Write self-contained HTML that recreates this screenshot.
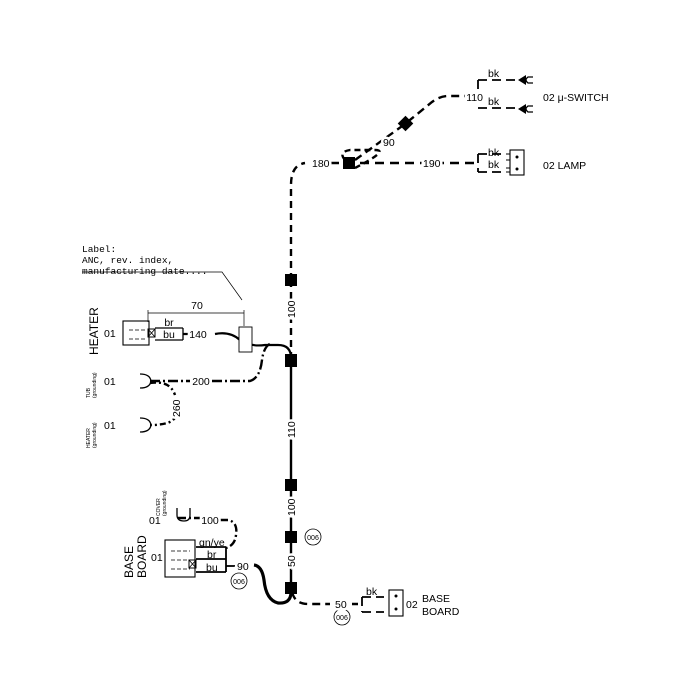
<!DOCTYPE html>
<html><head><meta charset="utf-8"><style>
body{margin:0;background:#fff}
svg{display:block}
text{font-family:"Liberation Sans",sans-serif;fill:#000}
.m{font-family:"Liberation Mono",monospace}
.w{stroke:#fff;stroke-width:5px;paint-order:stroke}
</style></head><body>
<svg width="700" height="700" viewBox="0 0 700 700" xmlns="http://www.w3.org/2000/svg">
<g fill="none" stroke="#000" stroke-width="2.4">
<path d="M291 280 V185 Q291 165 305 163" stroke-dasharray="7 5"/>
<path d="M291 280 V355" stroke-dasharray="7 5"/>
<path d="M291 365 V592" />
<path d="M330 163 H475" stroke-dasharray="9 6"/>
<path d="M345 160 Q338 152 350 150 H375 Q390 150 355 168" stroke-dasharray="6 4"/>
<path d="M355 160 L405 124 L432 102 Q440 96 448 96 H478" stroke-dasharray="8 5"/>
<path d="M478 80 V108 M478 80 H520 M478 108 H520" stroke-width="1.8" stroke-dasharray="9 5"/>
<path d="M478 154 V172 M478 154 H506 M478 172 H506" stroke-width="1.8" stroke-dasharray="9 5"/>
<path d="M183 334 H200 M215 334 Q230 331 240 340 Q250 347 265 345 H278 Q291 345 291 358" stroke-width="2.2"/>
<path d="M150 381 H190 M212 381 H250 Q260 378 262 360 Q264 345 272 343" stroke-dasharray="10 3 2 3"/>
<path d="M150 383 Q170 380 175 395 M176 415 Q174 425 150 425" stroke-dasharray="6 3 2 3"/>
<path d="M178 518 H200 M220 520 H228 Q238 522 236 535 Q235 545 226 548" stroke-dasharray="8 3 2 3"/>
<path d="M196 547 H226 M196 559 H226 M196 572 H226 M226 547 V572" stroke-width="1.8"/>
<path d="M226 566 H235" stroke-width="1.8"/>
<path d="M254 565 Q262 566 264 580 Q266 600 278 603 Q291 604 291 592" stroke-width="3.2"/>
<path d="M292 592 Q295 604 308 604 H330 M352 604 H358" stroke-dasharray="8 5"/>
<path d="M362 597 V612 M362 597 H384 M362 612 H384" stroke-width="1.8" stroke-dasharray="9 5"/>
<path d="M148 310 V322 M148 313 H244 M244 310 V326" stroke-width="0.7"/>
<path d="M82 272 H222 L242 300" stroke-width="0.7"/>
<rect x="239" y="327" width="13" height="25" stroke-width="0.9" fill="#fff"/>
<rect x="123" y="321" width="26" height="24" stroke-width="1.1"/>
<rect x="148" y="329" width="7" height="8" stroke-width="1"/>
<path d="M148 329 L155 337 M155 329 L148 337" stroke-width="0.8"/>
<path d="M155 328 H183 M155 340 H183 M183 328 V340" stroke-width="1.3"/>
<path d="M129 330 H145 M129 339 H145" stroke-width="0.8" stroke-dasharray="4 2"/>
<path d="M140 374 Q150 374 151 381 Q150 388 140 388" stroke-width="1.3"/>
<path d="M140 418 Q150 418 151 425 Q150 432 140 432" stroke-width="1.3"/>
<path d="M177 508 V515 Q177 521 184 521 Q190 521 190 515 V508" stroke-width="1.3"/>
<rect x="165" y="540" width="30" height="37" stroke-width="1.1"/>
<path d="M171 551 H190 M171 560 H190 M171 569 H190" stroke-width="0.8" stroke-dasharray="4 2"/>
<rect x="189" y="560" width="7" height="8" stroke-width="1"/>
<path d="M189 560 L196 568 M196 560 L189 568" stroke-width="0.8"/>
<rect x="510" y="150" width="14" height="25" stroke-width="1.1"/>
<path d="M506 154 H510 M506 160 H510 M506 168 H510 M506 172 H510" stroke-width="1"/>
<rect x="389" y="590" width="14" height="26" stroke-width="1.1"/>
<circle cx="313" cy="537" r="8" stroke-width="0.8"/>
<circle cx="239" cy="581" r="8" stroke-width="0.8"/>
<circle cx="342" cy="617" r="8" stroke-width="0.8"/>
<path d="M533 77 H528 Q524 80 528 83 H533 M533 106 H528 Q524 109 528 112 H533" stroke-width="1.3"/>
</g>
<g fill="#000">
<rect x="343" y="157" width="12" height="12"/>
<rect x="400" y="118" width="11" height="11" transform="rotate(45 405.5 123.5)"/>
<rect x="285" y="274" width="12" height="12"/>
<rect x="285" y="354" width="12" height="13"/>
<rect x="285" y="479" width="12" height="12"/>
<rect x="285" y="531" width="12" height="12"/>
<rect x="285" y="582" width="12" height="12"/>
<path d="M518 80 L526 75 V85 Z M518 109 L526 104 V114 Z"/>
<circle cx="517" cy="157" r="1.5"/><circle cx="517" cy="169" r="1.5"/>
<circle cx="396" cy="596" r="1.5"/><circle cx="396" cy="609" r="1.5"/>
</g>
<g font-size="10.5">
<text class="w" x="312" y="167">180</text>
<text class="w" x="423" y="167">190</text>
<text class="w" x="383" y="146">90</text>
<text class="w" x="483" y="101" text-anchor="end">110</text>
<text x="488" y="77">bk</text><text x="488" y="105">bk</text>
<text x="488" y="156">bk</text><text x="488" y="168">bk</text>
<text x="543" y="101">02  μ-SWITCH</text>
<text x="543" y="169">02  LAMP</text>
<text class="w" x="198" y="338" text-anchor="middle">140</text>
<text class="w" x="201" y="385" text-anchor="middle">200</text>
<text x="197" y="309" text-anchor="middle">70</text>
<text x="169" y="326" text-anchor="middle">br</text>
<text x="169" y="338" text-anchor="middle">bu</text>
<text x="104" y="337">01</text>
<text x="104" y="385">01</text>
<text x="104" y="429">01</text>
<text x="149" y="524">01</text>
<text x="151" y="561">01</text>
<text class="w" x="210" y="524" text-anchor="middle">100</text>
<text x="199" y="546">gn/ye</text>
<text x="207" y="558">br</text>
<text x="206" y="571">bu</text>
<text class="w" x="237" y="570">90</text>
<text class="w" x="335" y="608">50</text>
<text x="366" y="595">bk</text>
<text x="406" y="608">02</text>
<text x="422" y="602">BASE</text>
<text x="422" y="615">BOARD</text>
<text class="m" x="82" y="252" font-size="9.5">Label:</text>
<text class="m" x="82" y="263" font-size="9.5">ANC, rev. index,</text>
<text class="m" x="82" y="274" font-size="9.5">manufacturing date....</text>
<text class="w" transform="translate(295 318) rotate(-90)">100</text>
<text class="w" transform="translate(295 438) rotate(-90)">110</text>
<text class="w" transform="translate(295 516) rotate(-90)">100</text>
<text class="w" transform="translate(295 567) rotate(-90)">50</text>
<text class="w" transform="translate(180 417) rotate(-90)">260</text>
<text transform="translate(98 355) rotate(-90)" font-size="12">HEATER</text>
<text transform="translate(133 578) rotate(-90)" font-size="12">BASE</text>
<text transform="translate(146 578) rotate(-90)" font-size="12">BOARD</text>
<text transform="translate(90 398) rotate(-90)" font-size="5">TUB</text>
<text transform="translate(96 398) rotate(-90)" font-size="5">(grounding)</text>
<text transform="translate(90 448) rotate(-90)" font-size="5">HEATER</text>
<text transform="translate(96 448) rotate(-90)" font-size="5">(grounding)</text>
<text transform="translate(160 516) rotate(-90)" font-size="5">COVER</text>
<text transform="translate(166 516) rotate(-90)" font-size="5">(grounding)</text>
<g font-size="7" text-anchor="middle">
<text x="313" y="540">006</text><text x="239" y="584">006</text><text x="342" y="620">006</text>
</g>
</g>
</svg>
</body></html>
